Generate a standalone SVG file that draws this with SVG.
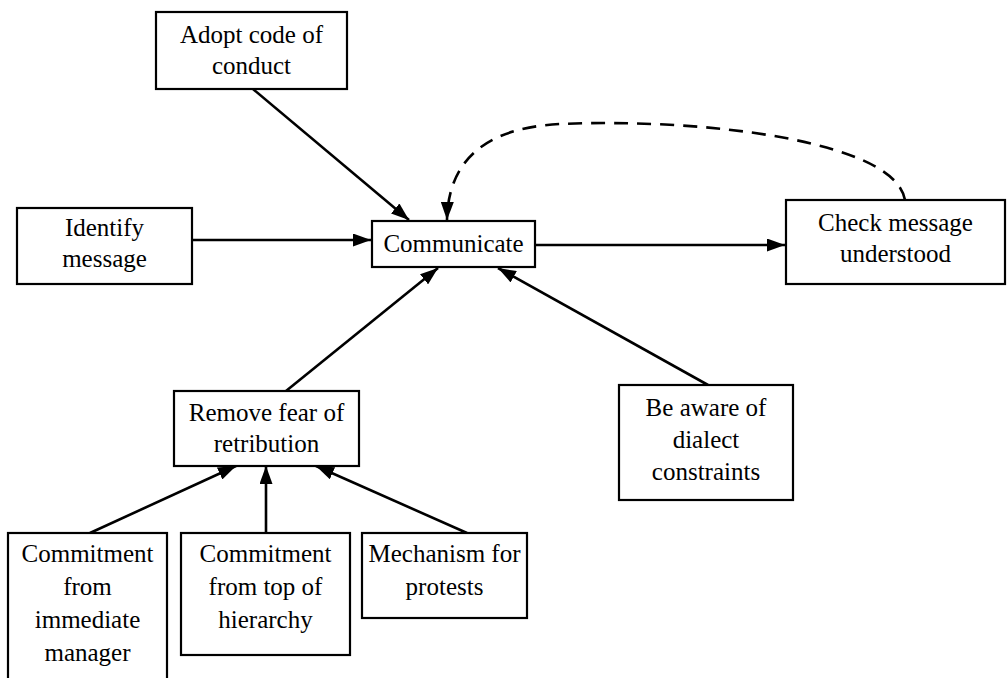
<svg xmlns="http://www.w3.org/2000/svg" width="1008" height="678" viewBox="0 0 1008 678">
  <style>
    .box { fill: #fff; stroke: #000; stroke-width: 2.2; }
    .edge { fill: none; stroke: #000; stroke-width: 2.6; marker-end: url(#arrow); }
    .dash { fill: none; stroke: #000; stroke-width: 2.6; stroke-dasharray: 14 9; marker-end: url(#arrow); }
  </style>
  <defs>
    <marker id="arrow" viewBox="0 0 18 13" refX="18" refY="6.5" markerWidth="18" markerHeight="13" markerUnits="userSpaceOnUse" orient="auto">
      <path d="M0,0 L18,6.5 L0,13 Z" fill="#000"/>
    </marker>
  </defs>

  <rect width="1008" height="678" fill="#fff"/>

  <g id="connectors">
    <line class="edge" x1="253" y1="89" x2="409" y2="220"/>
    <line class="edge" x1="192" y1="240" x2="371" y2="240"/>
    <line class="edge" x1="535" y1="245" x2="785" y2="245"/>
    <line class="edge" x1="286" y1="391" x2="438" y2="268"/>
    <line class="edge" x1="708" y1="385" x2="498" y2="268"/>
    <line class="edge" x1="90" y1="533" x2="236" y2="466"/>
    <line class="edge" x1="266" y1="533" x2="266" y2="466"/>
    <line class="edge" x1="467" y1="533" x2="316" y2="466"/>
    <path class="dash" d="M905,200 C895,140 700,118 560,124 C480,128 448,165 447,220"/>
  </g>

  <g font-family="Liberation Serif, Times New Roman, serif" font-size="25" text-anchor="middle" fill="#000">
  <g id="adopt-code">
    <rect class="box" x="156" y="12" width="191" height="77"/>
    <text x="251.5" y="43">Adopt code of</text>
    <text x="251.5" y="74">conduct</text>
  </g>

  <g id="identify-message">
    <rect class="box" x="17" y="208" width="175" height="76"/>
    <text x="104.5" y="236">Identify</text>
    <text x="104.5" y="267">message</text>
  </g>

  <g id="communicate">
    <rect class="box" x="372" y="221" width="163" height="46"/>
    <text x="453.5" y="252">Communicate</text>
  </g>

  <g id="check-message">
    <rect class="box" x="786" y="200" width="219" height="84"/>
    <text x="895.5" y="231">Check message</text>
    <text x="895.5" y="262">understood</text>
  </g>

  <g id="remove-fear">
    <rect class="box" x="174" y="391" width="185" height="75"/>
    <text x="266.5" y="421">Remove fear of</text>
    <text x="266.5" y="452">retribution</text>
  </g>

  <g id="dialect">
    <rect class="box" x="619" y="385" width="174" height="115"/>
    <text x="706" y="416">Be aware of</text>
    <text x="706" y="448">dialect</text>
    <text x="706" y="480">constraints</text>
  </g>

  <g id="commit-manager">
    <rect class="box" x="8" y="533" width="159" height="160"/>
    <text x="87.5" y="562">Commitment</text>
    <text x="87.5" y="595">from</text>
    <text x="87.5" y="628">immediate</text>
    <text x="87.5" y="661">manager</text>
  </g>

  <g id="commit-top">
    <rect class="box" x="181" y="533" width="169" height="122"/>
    <text x="265.5" y="562">Commitment</text>
    <text x="265.5" y="595">from top of</text>
    <text x="265.5" y="628">hierarchy</text>
  </g>

  <g id="protests">
    <rect class="box" x="362" y="533" width="165" height="85"/>
    <text x="444.5" y="562">Mechanism for</text>
    <text x="444.5" y="595">protests</text>
  </g>
  </g>
</svg>
